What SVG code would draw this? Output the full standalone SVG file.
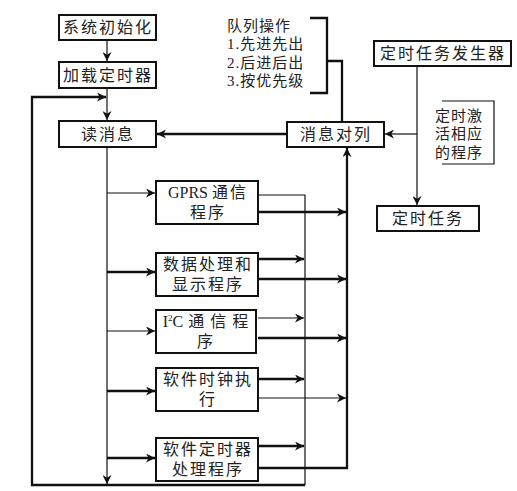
<svg xmlns="http://www.w3.org/2000/svg" width="517" height="491" viewBox="0 0 517 491">
<style>
.box{fill:#fff;stroke:#111;stroke-width:2}
.t{font-family:"Liberation Serif","Noto Sans CJK SC",serif;font-size:16px;fill:#222;text-anchor:middle;letter-spacing:2px}
.tl{font-family:"Liberation Serif","Noto Sans CJK SC",serif;font-size:15px;fill:#222;letter-spacing:1px}
.thin{fill:none;stroke:#111;stroke-width:1.2}
.thick{fill:none;stroke:#111;stroke-width:2.3}
</style>
<defs>
<marker id="ah" viewBox="0 0 10 10" refX="10" refY="5" markerWidth="9" markerHeight="9" markerUnits="userSpaceOnUse" orient="auto">
<path d="M0,0 L10,5 L0,10 L3,5 z" fill="#111"/>
</marker>
</defs>
<rect width="517" height="491" fill="#fff"/>
<g id="connectors">
<path class="thin" d="M107,40 V61" marker-end="url(#ah)"/>
<path class="thin" d="M107,88 V120" marker-end="url(#ah)"/>
<path class="thin" d="M258,195 H305 V485"/>
<path class="thick" d="M305,485 H32 V97 H106" marker-end="url(#ah)"/>
<path class="thin" d="M107,147 V484" marker-end="url(#ah)"/>
<path class="thin" d="M107,193 H155" marker-end="url(#ah)"/>
<path class="thick" d="M107,272 H155" marker-end="url(#ah)"/>
<path class="thin" d="M107,331 H155" marker-end="url(#ah)"/>
<path class="thick" d="M107,391 H155" marker-end="url(#ah)"/>
<path class="thick" d="M107,458 H155" marker-end="url(#ah)"/>
<path class="thick" d="M258,259 H304" marker-end="url(#ah)"/>
<path class="thin" d="M258,318 H304" marker-end="url(#ah)"/>
<path class="thick" d="M258,379 H304" marker-end="url(#ah)"/>
<path class="thick" d="M258,446 H304" marker-end="url(#ah)"/>
<path class="thick" d="M258,212 H346" marker-end="url(#ah)"/>
<path class="thick" d="M258,279 H346" marker-end="url(#ah)"/>
<path class="thick" d="M258,338 H346" marker-end="url(#ah)"/>
<path class="thin" d="M258,398 H346" marker-end="url(#ah)"/>
<path class="thick" d="M258,468 H347 V148" marker-end="url(#ah)"/>
<path class="thick" d="M287,134 H157" marker-end="url(#ah)"/>
<path class="thin" d="M417,66 V205" marker-end="url(#ah)"/>
<path class="thin" d="M417,134 H385" marker-end="url(#ah)"/>
<path class="thick" d="M310,18 H327 V93 H310"/>
<path class="thick" d="M327,61 H342 V122"/>
<path class="thin" d="M442,101 H494 V164 H442"/>
</g>
<g id="n-init"><rect class="box" x="59" y="15" width="97" height="25"/><text class="t" x="108" y="33">系统初始化</text></g>
<g id="n-load"><rect class="box" x="59" y="62" width="97" height="26"/><text class="t" x="108" y="81">加载定时器</text></g>
<g id="n-read"><rect class="box" x="59" y="121" width="97" height="26"/><text class="t" x="108" y="140">读消息</text></g>
<g id="n-queue"><rect class="box" x="287" y="122" width="97" height="25"/><text class="t" x="336" y="140">消息对列</text></g>
<g id="n-gen"><rect class="box" x="374" y="41" width="137" height="25"/><text class="t" x="443" y="59">定时任务发生器</text></g>
<g id="n-task"><rect class="box" x="377" y="206" width="102" height="25"/><text class="t" x="428" y="224">定时任务</text></g>
<g id="n-queueops"><text class="tl" x="227" y="31">队列操作</text><text class="tl" x="227" y="49">1.先进先出</text><text class="tl" x="227" y="68">2.后进后出</text><text class="tl" x="227" y="86">3.按优先级</text></g>
<g id="n-activate"><text class="tl" x="435" y="121">定时激</text><text class="tl" x="435" y="139">活相应</text><text class="tl" x="435" y="158">的程序</text></g>
<g id="n-gprs"><rect class="box" x="156" y="181" width="102" height="43"/><text class="t" x="208" y="198"><tspan style="letter-spacing:0">GPRS </tspan>通信</text><text class="t" x="208" y="218">程序</text></g>
<g id="n-data"><rect class="box" x="156" y="253" width="102" height="43"/><text class="t" x="208" y="270">数据处理和</text><text class="t" x="208" y="290">显示程序</text></g>
<g id="n-i2c"><rect class="box" x="156" y="310" width="100" height="43"/><text class="t" x="206" y="327" style="letter-spacing:0">I<tspan font-size="9" dy="-6">2</tspan><tspan dy="6">C</tspan><tspan style="letter-spacing:1px"> 通 信 程</tspan></text><text class="t" x="206" y="347">序</text></g>
<g id="n-clock"><rect class="box" x="156" y="368" width="102" height="43"/><text class="t" x="208" y="385">软件时钟执</text><text class="t" x="208" y="405">行</text></g>
<g id="n-timer"><rect class="box" x="156" y="438" width="102" height="43"/><text class="t" x="208" y="455">软件定时器</text><text class="t" x="208" y="475">处理程序</text></g>
</svg>
